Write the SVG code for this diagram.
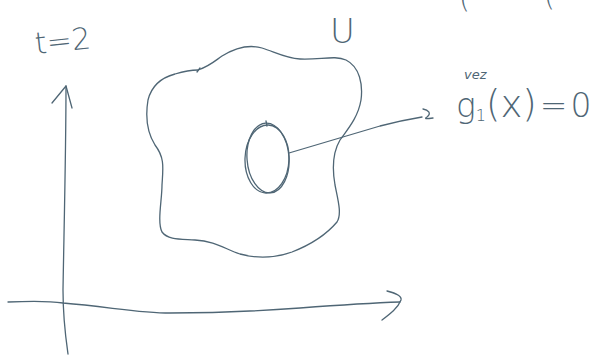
<svg xmlns="http://www.w3.org/2000/svg" width="602" height="356" viewBox="0 0 602 356">
  <style>
    .ink { fill: none; stroke: #4f6675; stroke-width: 1.3; stroke-linecap: round; stroke-linejoin: round; }
    .hand { fill: #4f6675; font-family: "DejaVu Sans", "Liberation Sans", sans-serif; font-weight: 200; }
  </style>
  <rect width="602" height="356" fill="#ffffff"/>

  <g id="axes">
    <path class="ink" d="M66,86 C66,150 64,230 63,290 C63,320 66,340 68,354"/>
    <path class="ink" d="M52,103 L66,86 L72,108"/>
    <path class="ink" d="M8,302 C30,301 50,301 63,303 C110,307 140,313 170,313 C220,313 260,311 300,308 C340,305 370,303 400,302"/>
    <path class="ink" d="M387,291 C395,293 402,296 401,300 C398,308 390,314 382,320"/>
  </g>

  <g id="label-t">
    <text class="hand" x="36" y="54" font-size="30" transform="rotate(-6 36 54)">t=2</text>
  </g>

  <g id="label-top-cut">
    <text class="hand" x="459" y="8" font-size="28">(</text>
    <text class="hand" x="544" y="6" font-size="28">(</text>
  </g>

  <g id="region-U">
    <path class="ink" d="M198,70 C210,66 216,60 222,56 C235,48 248,44 262,48 C275,52 285,58 300,59 C320,60 335,55 346,60 C360,67 363,85 361,100 C358,118 347,130 340,140 C333,152 332,168 335,185 C338,200 342,214 337,222 C326,235 310,245 292,252 C275,258 258,259 240,254 C225,249 215,241 195,240 C180,239 168,240 162,232 C157,222 162,200 162,185 C163,168 165,158 155,145 C147,132 145,118 148,100 C151,88 160,78 175,74 C185,71 192,70 198,70"/>
    <path class="ink" d="M197,72 L200,68"/>
  </g>

  <g id="label-U">
    <text class="hand" x="330" y="43" font-size="34">U</text>
  </g>

  <g id="set-g1">
    <ellipse class="ink" cx="268" cy="158" rx="21" ry="35" transform="rotate(-4 268 158)"/>
    <ellipse class="ink" cx="267" cy="159" rx="22" ry="34" transform="rotate(2 267 159)"/>
    <path class="ink" d="M266,121 L267,126"/>
  </g>

  <g id="connectors">
    <path class="ink" d="M289,153 C320,144 350,135 380,126 C395,122 410,119 422,117"/>
    <path class="ink" d="M423,109 C428,110 432,113 427,117 C424,119 426,119 433,118"/>
  </g>

  <g id="label-g1">
    <text class="hand" x="464" y="79" font-size="13" font-style="italic">vez</text>
    <text class="hand" x="456" y="117" font-size="33">g<tspan font-size="16" dy="4">1</tspan><tspan dy="-4" font-size="37">(x)</tspan><tspan dx="3">=</tspan><tspan dx="3">0</tspan></text>
  </g>
</svg>
